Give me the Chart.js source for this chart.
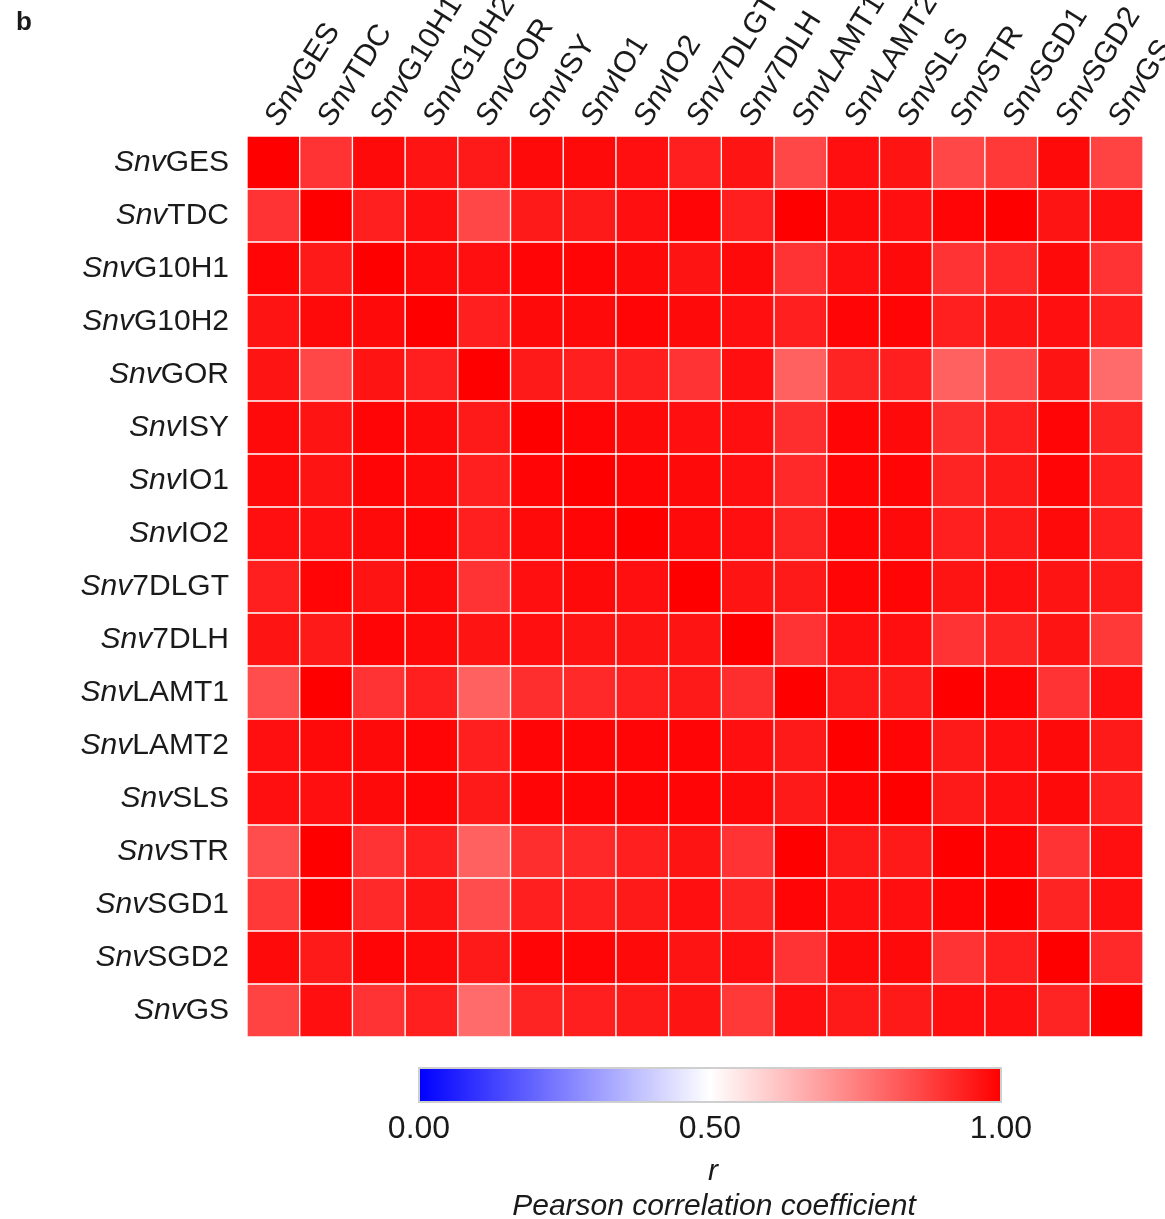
<!DOCTYPE html>
<html>
<head>
<meta charset="utf-8">
<script src="https://cdn.jsdelivr.net/npm/chart.js@4.4.0/dist/chart.umd.min.js"></script>
<style>
  html, body { margin: 0; padding: 0; background: #fff; }
  #wrap { width: 1165px; height: 1219px; }
</style>
</head>
<body>
<div id="wrap"><canvas id="heat"></canvas></div>
<script>
const prefix = 'Snv';
const genes = ['GES', 'TDC', 'G10H1', 'G10H2', 'GOR', 'ISY', 'IO1', 'IO2', '7DLGT', '7DLH',
               'LAMT1', 'LAMT2', 'SLS', 'STR', 'SGD1', 'SGD2', 'GS'];

// pearson r, one row per gene
const rGES   = [1.00, 0.90, 0.98, 0.96, 0.95, 0.98, 0.98, 0.97, 0.94, 0.96, 0.86, 0.97, 0.96, 0.86, 0.89, 0.98, 0.87];
const rTDC   = [0.90, 1.00, 0.94, 0.97, 0.86, 0.95, 0.95, 0.97, 0.99, 0.94, 1.00, 0.98, 0.97, 0.99, 1.00, 0.96, 0.97];
const rG10H1 = [0.99, 0.95, 1.00, 0.98, 0.97, 0.99, 0.99, 0.98, 0.96, 0.98, 0.90, 0.97, 0.98, 0.90, 0.92, 0.98, 0.90];
const rG10H2 = [0.96, 0.98, 0.98, 1.00, 0.94, 0.98, 0.98, 0.99, 0.98, 0.97, 0.94, 0.99, 0.99, 0.94, 0.96, 0.97, 0.94];
const rGOR   = [0.96, 0.86, 0.96, 0.94, 1.00, 0.95, 0.94, 0.94, 0.90, 0.97, 0.81, 0.93, 0.94, 0.81, 0.86, 0.96, 0.79];
const rISY   = [0.98, 0.96, 0.99, 0.98, 0.95, 1.00, 0.99, 0.98, 0.97, 0.97, 0.91, 0.99, 0.98, 0.91, 0.94, 0.99, 0.93];
const rIO1   = [0.98, 0.96, 0.99, 0.98, 0.94, 0.99, 1.00, 0.99, 0.98, 0.97, 0.92, 0.99, 0.99, 0.93, 0.95, 0.99, 0.94];
const rIO2   = [0.97, 0.97, 0.98, 0.99, 0.94, 0.98, 0.99, 1.00, 0.98, 0.97, 0.93, 0.99, 0.98, 0.94, 0.95, 0.98, 0.94];
const r7DLGT = [0.94, 0.99, 0.96, 0.98, 0.90, 0.97, 0.98, 0.97, 1.00, 0.96, 0.95, 0.99, 0.99, 0.96, 0.97, 0.96, 0.95];
const r7DLH  = [0.96, 0.95, 0.99, 0.98, 0.96, 0.97, 0.96, 0.96, 0.96, 1.00, 0.90, 0.97, 0.97, 0.90, 0.93, 0.96, 0.89];
const rLAMT1 = [0.85, 1.00, 0.90, 0.94, 0.81, 0.91, 0.92, 0.94, 0.95, 0.91, 1.00, 0.95, 0.95, 1.00, 0.99, 0.90, 0.97];
const rLAMT2 = [0.97, 0.98, 0.98, 0.99, 0.94, 0.99, 0.99, 0.99, 0.99, 0.97, 0.95, 1.00, 0.99, 0.95, 0.97, 0.98, 0.95];
const rSLS   = [0.97, 0.97, 0.98, 0.99, 0.95, 0.99, 0.99, 0.99, 0.99, 0.98, 0.95, 0.99, 1.00, 0.95, 0.97, 0.98, 0.94];
const rSTR   = [0.85, 1.00, 0.90, 0.94, 0.81, 0.91, 0.92, 0.94, 0.96, 0.90, 1.00, 0.95, 0.95, 1.00, 0.99, 0.90, 0.97];
const rSGD1  = [0.89, 1.00, 0.92, 0.96, 0.85, 0.94, 0.94, 0.95, 0.97, 0.93, 0.99, 0.97, 0.97, 0.99, 1.00, 0.93, 0.97];
const rSGD2  = [0.98, 0.95, 0.99, 0.98, 0.95, 0.99, 0.99, 0.98, 0.96, 0.97, 0.90, 0.98, 0.98, 0.90, 0.94, 1.00, 0.92];
const rGS    = [0.87, 0.97, 0.90, 0.94, 0.79, 0.93, 0.94, 0.95, 0.96, 0.89, 0.97, 0.95, 0.95, 0.97, 0.97, 0.93, 1.00];

const rows = [rGES, rTDC, rG10H1, rG10H2, rGOR, rISY, rIO1, rIO2, r7DLGT, r7DLH,
              rLAMT1, rLAMT2, rSLS, rSTR, rSGD1, rSGD2, rGS];

const colorbarTicks = [0, 0.5, 1];
const colorbarTitle = 'r';
const colorbarSubtitle = 'Pearson correlation coefficient';
const panelLetter = 'b';

const FONT = '"Liberation Sans", Arial, sans-serif';

// blue -> white -> red
function rColor(v) {
    if (v >= 0.5) {
        const c = Math.round(255 * (1 - (v - 0.5) / 0.5));
        return `rgb(255,${c},${c})`;
    }
    const c = Math.round(255 * (v / 0.5));
    return `rgb(${c},${c},255)`;
}

// one stacked dataset per column, each cell is 1 unit wide
const datasets = genes.map((g, j) => ({
    label: prefix + g,
    data: genes.map(() => 1),
    backgroundColor: rows.map(row => rColor(row[j])),
    borderColor: 'rgba(255,255,255,0.7)',
    borderWidth: 1,
    borderSkipped: false,
    categoryPercentage: 1,
    barPercentage: 1
}));

// mixed italic prefix + upright gene name
function drawName(ctx, gene, x, y, align, size) {
    ctx.font = `italic ${size}px ` + FONT;
    const w1 = ctx.measureText(prefix).width;
    ctx.font = `${size}px ` + FONT;
    const w2 = ctx.measureText(gene).width;
    let start = align === 'right' ? x - w1 - w2 : x;
    ctx.textAlign = 'left';
    ctx.font = `italic ${size}px ` + FONT;
    ctx.fillText(prefix, start, y);
    ctx.font = `${size}px ` + FONT;
    ctx.fillText(gene, start + w1, y);
}

const labelsPlugin = {
    id: 'heatLabels',
    afterDraw(chart) {
        const ctx = chart.ctx;
        const xs = chart.scales.x, ys = chart.scales.y;
        const area = chart.chartArea;
        ctx.save();
        ctx.fillStyle = '#1a1a1a';

        // row names
        ctx.textBaseline = 'middle';
        genes.forEach((g, i) => {
            drawName(ctx, g, area.left - 18, ys.getPixelForValue(i), 'right', 30);
        });

        // column names, rotated
        ctx.textBaseline = 'alphabetic';
        genes.forEach((g, j) => {
            const cx = xs.getPixelForValue(j + 0.5);
            ctx.save();
            ctx.translate(cx + 6, area.top - 8);
            ctx.rotate(-58 * Math.PI / 180);
            drawName(ctx, g, 0, 0, 'left', 30);
            ctx.restore();
        });

        // colour bar
        const bx = 419, bw = 582, by = 1068, bh = 34;
        const grad = ctx.createLinearGradient(bx, 0, bx + bw, 0);
        for (let k = 0; k <= 10; k++) grad.addColorStop(k / 10, rColor(k / 10));
        ctx.fillStyle = grad;
        ctx.fillRect(bx, by, bw, bh);
        ctx.strokeStyle = '#cfcfcf';
        ctx.lineWidth = 2;
        ctx.strokeRect(bx, by, bw, bh);

        ctx.fillStyle = '#1a1a1a';
        ctx.textAlign = 'center';
        ctx.textBaseline = 'middle';
        ctx.font = '32px ' + FONT;
        colorbarTicks.forEach(t => {
            ctx.fillText(t.toFixed(2), bx + t * bw, 1129);
        });
        ctx.font = 'italic 30px ' + FONT;
        ctx.fillText(colorbarTitle, 713, 1172);
        ctx.fillText(colorbarSubtitle, 714, 1207);

        ctx.textAlign = 'left';
        ctx.font = 'bold 26px ' + FONT;
        ctx.fillText(panelLetter, 16, 23);
        ctx.restore();
    }
};

new Chart(document.getElementById('heat').getContext('2d'), {
    type: 'bar',
    data: {
        labels: genes.map(g => prefix + g),
        datasets: datasets
    },
    options: {
        indexAxis: 'y',
        responsive: true,
        maintainAspectRatio: false,
        animation: false,
        events: [],
        layout: { padding: { left: 247, right: 22, top: 136, bottom: 182 } },
        scales: {
            x: { type: 'linear', stacked: true, min: 0, max: genes.length, display: false },
            y: { type: 'category', stacked: true, display: false }
        },
        plugins: {
            legend: { display: false },
            tooltip: { enabled: false },
            title: { display: false }
        }
    },
    plugins: [labelsPlugin]
});
</script>
</body>
</html>
